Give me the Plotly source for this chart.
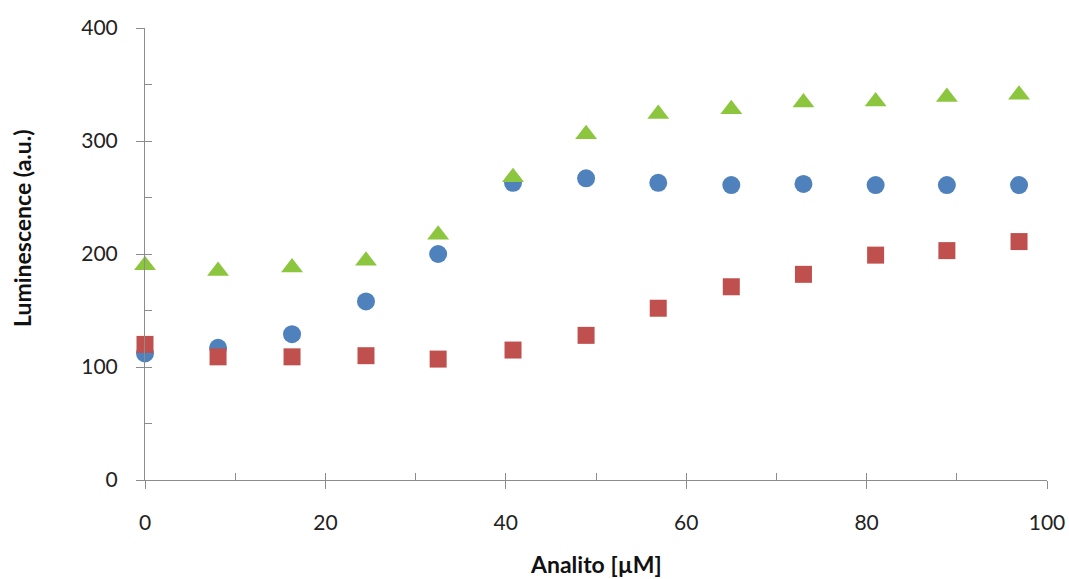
import plotly.graph_objects as go

analito = [0, 8.1, 16.3, 24.5, 32.5, 40.8, 48.9, 56.9, 65.0, 73.0, 81.0, 88.9, 96.9]
serie_azul = [112, 117, 129, 158, 200, 263, 267, 263, 261, 262, 261, 261, 261]
serie_roja = [120, 109, 109, 110, 107, 115, 128, 152, 171, 182, 199, 203, 211]
serie_verde = [190, 185, 188, 194, 217, 268, 306, 324, 328, 334, 335, 339, 341]

x_ticks = [0, 20, 40, 60, 80, 100]
y_ticks = [0, 100, 200, 300, 400]

x_title = "<b>Analito [µM]</b>"
y_title = "<b>Luminescence (a.u.)</b>"

FONT = "Lato"
AXIS_COLOR = "#8c8c8c"

fig = go.Figure()
fig.add_trace(go.Scatter(x=analito, y=serie_azul, mode="markers", name="azul", cliponaxis=False,
                         marker=dict(symbol="circle", size=18, color="#4F81BD")))
fig.add_trace(go.Scatter(x=analito, y=serie_roja, mode="markers", name="roja", cliponaxis=False,
                         marker=dict(symbol="square", size=17, color="#C0504D")))
fig.add_trace(go.Scatter(x=analito, y=serie_verde, mode="markers", name="verde", cliponaxis=False,
                         marker=dict(symbol="triangle-up", size=19, color="#8CC63F")))
# invisible trace on overlay axes so they render
fig.add_trace(go.Scatter(x=[None], y=[None], xaxis="x2", yaxis="y2", showlegend=False, hoverinfo="skip"))

fig.update_layout(
    width=1069, height=579,
    margin=dict(l=145, r=22, t=28, b=99, autoexpand=False),
    paper_bgcolor="white", plot_bgcolor="white",
    showlegend=False,
    font=dict(family=FONT, color="#222222"),
    xaxis=dict(range=[0, 100], tickvals=x_ticks, ticktext=[str(v) for v in x_ticks],
               automargin=False,
               ticks="outside", ticklen=8, tickcolor=AXIS_COLOR, tickwidth=1,
               showline=True, linecolor=AXIS_COLOR, linewidth=1,
               showgrid=False, zeroline=False,
               tickfont=dict(size=21, family=FONT, color="#222222"),
               ticklabelstandoff=16),
    yaxis=dict(range=[0, 400], tickvals=y_ticks, ticktext=[str(v) for v in y_ticks],
               automargin=False,
               ticks="outside", ticklen=8, tickcolor=AXIS_COLOR, tickwidth=1,
               showline=True, linecolor=AXIS_COLOR, linewidth=1,
               showgrid=False, zeroline=False,
               tickfont=dict(size=21, family=FONT, color="#222222"),
               ticklabelstandoff=14),
    xaxis2=dict(overlaying="x", range=[0, 100], dtick=10, tick0=0, ticks="inside", ticklen=7,
                automargin=False,
                tickcolor=AXIS_COLOR, showticklabels=False, showgrid=False, zeroline=False,
                showline=False, side="bottom", anchor="y2"),
    yaxis2=dict(overlaying="y", range=[0, 400], dtick=50, tick0=0, ticks="inside", ticklen=7,
                automargin=False,
                tickcolor=AXIS_COLOR, showticklabels=False, showgrid=False, zeroline=False,
                showline=False, side="left", anchor="x2"),
    annotations=[
        dict(text=y_title, textangle=-90, xref="paper", yref="paper",
             x=-0.1364, y=0.5575, xanchor="center", yanchor="middle",
             showarrow=False, font=dict(size=23, family=FONT, color="#111111")),
        dict(text=x_title, xref="paper", yref="paper",
             x=0.5, y=-0.1504, xanchor="center", yanchor="top",
             showarrow=False, font=dict(size=23, family=FONT, color="#111111")),
    ],
)

fig.write_html("out.html")
